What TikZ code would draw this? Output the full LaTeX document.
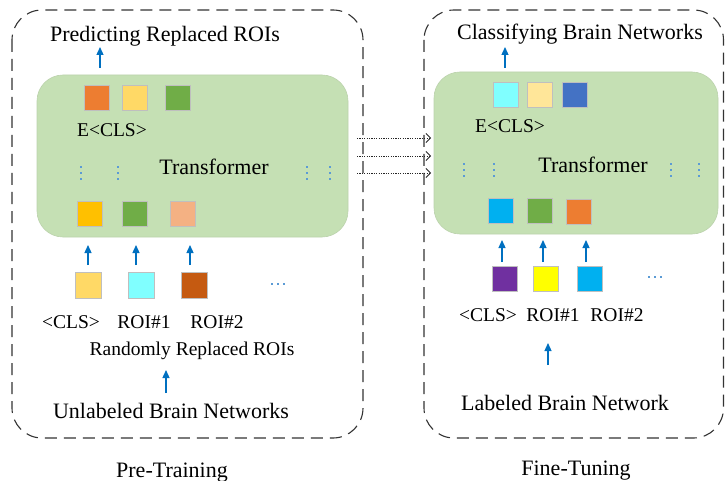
\documentclass[tikz,border=0pt]{standalone}
\usepackage{fontspec}
\setmainfont{Liberation Serif}
\usetikzlibrary{arrows.meta}
\definecolor{boxgreen}{HTML}{C5E0B4}
\definecolor{arrblue}{HTML}{0070C0}
\definecolor{dotblue}{HTML}{5B9BD5}
\definecolor{cOrange}{HTML}{ED7D31}
\definecolor{cLYellow}{HTML}{FFD966}
\definecolor{cGreen}{HTML}{70AD47}
\definecolor{cGold}{HTML}{FFC000}
\definecolor{cPeach}{HTML}{F4B183}
\definecolor{cCyan}{HTML}{80FFFF}
\definecolor{cRust}{HTML}{C55A11}
\definecolor{cCream}{HTML}{FFE699}
\definecolor{cBlue}{HTML}{4472C4}
\definecolor{cSky}{HTML}{00B0F0}
\definecolor{cPurple}{HTML}{7030A0}
\definecolor{cYellow}{HTML}{FFFF00}
\tikzset{
  phasebox/.style={draw=black!80, line width=1.1pt, dash pattern=on 12pt off 7pt, rounded corners=30pt},
  greenbox/.style={fill=boxgreen, draw=boxgreen!85!gray, line width=0.6pt, rounded corners=26pt},
  tok/.style={minimum size=25pt, inner sep=0pt, draw=black!25, line width=0.9pt, fill=#1},
  bigtxt/.style={font=\fontsize{22}{26}\selectfont, inner sep=0pt, anchor=base},
  smalltxt/.style={font=\fontsize{19.5}{23}\selectfont, inner sep=0pt, anchor=base},
  uparr/.style={draw=arrblue, line width=1.3pt, -{Triangle[length=8pt,width=7pt]}},
  dotarr/.style={draw=black!85, line width=0.8pt, dash pattern=on 1.2pt off 1.2pt, -{Straight Barb[length=4.5pt,width=9pt,line width=0.8pt]}},
  dot/.style={fill=dotblue, draw=none}
}
\begin{document}
\begin{tikzpicture}[x=1pt,y=-1pt]
\useasboundingbox (0,0) rectangle (725,481);
% phase boxes
\draw[phasebox] (12,10) rectangle (363,438);
\draw[phasebox] (424,10) rectangle (723.5,438);
% green transformer boxes
\node[greenbox, minimum width=311pt, minimum height=162pt, inner sep=0pt] (tfL) at (192.5,156) {};
\node[greenbox, minimum width=284pt, minimum height=162pt, inner sep=0pt] (tfR) at (576,153) {};

% ---- left (pre-training) ----
\node[bigtxt] (predL) at (165,42) {Predicting Replaced ROIs};
\node[tok=cOrange] (oL1) at (97,98) {};
\node[tok=cLYellow] (oL2) at (135,98) {};
\node[tok=cGreen] (oL3) at (178,98) {};
\node[smalltxt] (eclsL) at (112,137) {E<CLS>};
\node[bigtxt] (trL) at (214,175) {Transformer};
\node[tok=cGold] (iL1) at (90,214) {};
\node[tok=cGreen] (iL2) at (135,214) {};
\node[tok=cPeach] (iL3) at (183,214) {};
\node[tok=cLYellow, minimum size=26pt] (xL1) at (88,285) {};
\node[tok=cCyan, minimum size=26pt] (xL2) at (141,285) {};
\node[tok=cRust, minimum size=26pt] (xL3) at (194,285) {};
\node[smalltxt] (lL1) at (71,328) {<CLS>};
\node[smalltxt] (lL2) at (144,328) {ROI\#1};
\node[smalltxt] (lL3) at (217,328) {ROI\#2};
\node[smalltxt] (randL) at (192,355) {Randomly Replaced ROIs};
\node[bigtxt] (unlab) at (171,418) {Unlabeled Brain Networks};
\node[bigtxt] (pretr) at (172,477) {Pre-Training};

% ---- right (fine-tuning) ----
\node[bigtxt] (predR) at (580,40) {Classifying Brain Networks};
\node[tok=cCyan] (oR1) at (506,95) {};
\node[tok=cCream] (oR2) at (540,95) {};
\node[tok=cBlue] (oR3) at (575,95) {};
\node[smalltxt] (eclsR) at (510,133) {E<CLS>};
\node[bigtxt] (trR) at (593,173) {Transformer};
\node[tok=cSky] (iR1) at (501,211) {};
\node[tok=cGreen] (iR2) at (540,211) {};
\node[tok=cOrange] (iR3) at (579,212) {};
\node[tok=cPurple] (xR1) at (505,279) {};
\node[tok=cYellow] (xR2) at (546,279) {};
\node[tok=cSky] (xR3) at (590,279) {};
\node[smalltxt] (lR1) at (488,321) {<CLS>};
\node[smalltxt] (lR2) at (553,321) {ROI\#1};
\node[smalltxt] (lR3) at (617,321) {ROI\#2};
\node[bigtxt] (labd) at (565,410) {Labeled Brain Network};
\node[bigtxt] (fine) at (576,475) {Fine-Tuning};

% ---- arrow coordinates ----
\coordinate (aL0s) at (100,68);  \coordinate (aL0e) at (100,47);
\coordinate (aL1s) at (88,265);  \coordinate (aL1e) at (88,245);
\coordinate (aL2s) at (136,265); \coordinate (aL2e) at (136,245);
\coordinate (aL3s) at (190,265); \coordinate (aL3e) at (190,245);
\coordinate (aL4s) at (166,393); \coordinate (aL4e) at (166,370);
\coordinate (aR0s) at (505,68);  \coordinate (aR0e) at (505,47);
\coordinate (aR1s) at (502,262); \coordinate (aR1e) at (502,240);
\coordinate (aR2s) at (543,262); \coordinate (aR2e) at (543,240);
\coordinate (aR3s) at (586,262); \coordinate (aR3e) at (586,240);
\coordinate (aR4s) at (548,365); \coordinate (aR4e) at (548,343);
\foreach \a in {aL0,aL1,aL2,aL3,aL4,aR0,aR1,aR2,aR3,aR4}
  \draw[uparr] (\a s) -- (\a e);

% dotted transfer arrows
\coordinate (d1s) at (357,138); \coordinate (d1e) at (431,138);
\coordinate (d2s) at (357,156); \coordinate (d2e) at (431,156);
\coordinate (d3s) at (357,173); \coordinate (d3e) at (431,173);
\foreach \a in {d1,d2,d3}
  \draw[dotarr] (\a s) -- (\a e);

% vertical ellipses
\foreach \x/\y in {81/173,118/173,307/173,330/173,464/170,494/170,671/170,699/170}
  \foreach \dy in {-6,0,6}
    \fill[dot] (\x-1.3,\y+\dy-1.3) rectangle (\x+1.3,\y+\dy+1.3);
% horizontal ellipses
\foreach \x/\y in {278/284,655/277}
  \foreach \dx in {-6,0,6}
    \fill[dot] (\x+\dx-1.2,\y-1.2) rectangle (\x+\dx+1.2,\y+1.2);
\end{tikzpicture}
\end{document}
